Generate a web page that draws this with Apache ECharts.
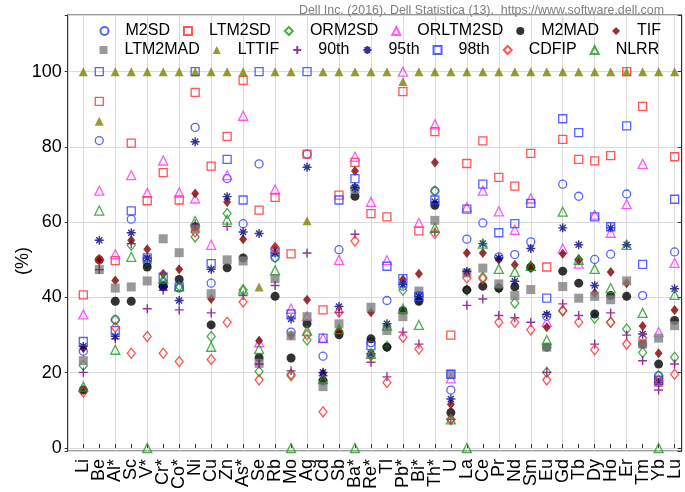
<!DOCTYPE html>
<html>
<head>
<meta charset="utf-8">
<script src="https://cdn.jsdelivr.net/npm/echarts@6/dist/echarts.min.js"></script>
<style>html,body{margin:0;padding:0;background:#fff}#c{width:685px;height:492px}</style>
</head>
<body>
<div id="c"></div>
<script>
var categories = ['Li','Be','Al*','Sc','V*','Cr*','Co*','Ni','Cu','Zn','As*','Se','Rb','Mo','Ag','Cd','Sb','Ba*','Re*','Tl','Pb*','Bi*','Th*','U','La','Ce','Pr','Nd','Sm','Eu','Gd','Tb','Dy','Ho','Er','Tm','Yb','Lu'];
var yTicks = [0,20,40,60,80,100];

var M2SD = [25.7,81.7,34.1,60.8,50,43,42.5,85.2,43.8,71.6,59.6,75.5,50.6,30.8,78.1,24.4,52.7,69,28,39.2,43,40.5,68.3,15.4,55.5,59.8,50.8,51.4,54.8,35,70.1,66.9,50.1,51.5,67.5,40.5,19.2,52.1];
var LTM2SD = [40.7,92.1,49.8,81,65.7,73.2,65.9,94.5,74.9,82.8,97.7,63.2,66.6,51.6,78.1,36.7,67.2,75.9,62.3,61.4,94.7,57.7,84.1,30,75.6,81.6,71.9,69.6,78.3,48.1,82,76.7,76.3,77.7,100,90.8,17.5,77.4];
var ORM2SD = [21.9,50,34,53.9,49,44,43,56.1,29.6,62.3,42,20.3,50.6,19.6,28.7,18,31,69,25,27,41.9,39.5,68.3,7.6,42,45.4,42.5,38.5,48,20.1,36.5,50,34.5,33.4,31.6,25.4,19.2,24.1];
var ORLTM2SD = [35.5,68.4,51.5,72.5,67.8,76.4,67.9,66.3,54,72.5,88.3,28.1,68.7,37,35,29.2,50,77.4,65.4,49.9,100,59.8,86,18.5,64,68.4,62.9,58,66.3,33.5,53,49,62,57.2,64.8,75.5,30.8,49.2];
var M2MAD = [15.4,50,39,39,48.1,43,44.8,58.8,32.7,47.9,50.5,24,40.3,23.9,33,17.9,30.1,66.9,29,26.8,36.5,39,64.5,9.4,42,43,42.5,42.8,48,26.8,47,43.8,35.6,40.5,40.3,27.6,22.3,33.9];
var TIF = [26.5,50,44.5,55.2,52.8,46.3,47.5,67.6,39.6,65.4,55.5,28.5,53.5,29.9,39.4,19.8,31,73.6,36.1,32.5,44.8,46.3,75.9,11.6,51.8,51.8,50,48.7,48.4,32.1,51.6,50,41.2,46.8,43.8,32.4,25.2,36.7];
var LTM2MAD = [23.2,47.4,42.5,42.8,44.4,55.6,51.9,58.3,41,50,49.7,22.5,45,29.8,34.9,16.3,33,68.7,37.4,31.2,34.9,41.7,60.5,19.6,46.5,47.8,43.6,40.5,42.1,26.8,42.9,39.8,40.3,39.4,44.4,27.6,29.2,32.5];
var LTTIF = [100,86.8,100,100,100,100,100,100,100,100,100,42.8,100,100,60.4,100,100,100,100,100,97.4,100,100,100,100,100,100,100,100,100,100,100,100,100,100,100,100,100];
var P90 = [20.1,47.4,29,54.3,37,41.9,36.7,59.5,35.9,58.9,40.5,22.3,43.2,20.5,51.8,19.2,36,56.8,22.8,18.9,30.8,27.6,57.4,7.6,37.9,39.6,35.2,34.6,33.4,20.1,38.3,35.2,27.6,35.9,30,23.2,15.4,22.3];
var P95 = [27,55.2,29.7,57.2,50.5,42.8,39.2,81.4,47.5,66.8,57.4,57,51.8,34.3,74.6,20.1,37.6,69.2,25,33,43.5,40.3,65.4,13,46.9,54.3,50.5,44.3,53,35.5,58.5,54,43.2,58.5,54,30.3,17.4,42.3];
var P98 = [28.3,100,31.2,63,50.5,45.4,42.8,100,49,76.7,65.9,100,52.1,35.6,100,29.2,65.9,71.6,27.2,48.3,45,40.3,65.9,19.6,63.5,70.1,57.2,59.6,65,39.8,87.5,83.8,61.4,58.8,85.6,48.8,18,66.1];
var CDFIP = [14.9,50,32.1,25.2,29.6,25.2,23,57.4,23.5,33.4,38.8,18.1,53,19.2,30.1,9.6,36.1,55,24.5,17.4,29.4,26.3,57,7.6,45.2,45,33.4,33.4,31.4,18.1,36.5,33.4,26.1,33.4,27.6,29.2,18,19.6];
var NLRR = [16.3,63.1,26.1,50.8,0,45,43,60.3,26.9,60.7,42.1,26.3,47.2,0,31.2,18.3,31.6,0,25,32.5,37,32.7,58.5,7.6,0,54.3,47.6,46.8,48.4,28.7,62.8,50,47.6,42.5,54,35.9,0,40.7];

var FONT = 'Liberation Sans, Arial, sans-serif';
var Y_MIN = -0.8, Y_MAX = 115.07;
var PLUS = 'path://M5,0L5,10M0,5L10,5';
var STAR = 'path://M5,0L5,10M0,5L10,5M1.6,1.6L8.4,8.4M8.4,1.6L1.6,8.4';

function mk(name, data, symbol, size, color, mode) {
  var style;
  if (mode === 'hollow') style = {color: 'rgba(255,255,255,0)', borderColor: color, borderWidth: 1.3};
  else if (mode === 'line') style = {color: 'rgba(255,255,255,0)', borderColor: color, borderWidth: 1.4};
  else style = {color: color, borderWidth: 0};
  return {
    name: name, type: 'scatter', xAxisIndex: 0, yAxisIndex: 0,
    data: data, symbol: symbol, symbolSize: size, itemStyle: style,
    clip: false, emphasis: {disabled: true}
  };
}

var series = [
  mk('M2SD', M2SD, 'circle', 8, '#2a3cff', 'hollow'),
  mk('LTM2SD', LTM2SD, 'rect', 8, '#ff2a2a', 'hollow'),
  mk('ORM2SD', ORM2SD, 'diamond', [8,10], '#1e9a1e', 'hollow'),
  mk('ORLTM2SD', ORLTM2SD, 'triangle', 9, '#ff30ff', 'hollow'),
  mk('M2MAD', M2MAD, 'circle', 9, '#000000', 'fill'),
  mk('TIF', TIF, 'diamond', [8,10], '#800000', 'fill'),
  mk('LTM2MAD', LTM2MAD, 'rect', 9, '#7f7f7f', 'fill'),
  mk('LTTIF', LTTIF, 'triangle', 9, '#808000', 'fill'),
  mk('90th', P90, PLUS, 9, '#800080', 'line'),
  mk('95th', P95, STAR, 9, '#000080', 'line'),
  mk('98th', P98, 'rect', 8, '#2a3cff', 'hollow'),
  mk('CDFIP', CDFIP, 'diamond', [8,10], '#ff2a2a', 'hollow'),
  mk('NLRR', NLRR, 'triangle', 9, '#1e9a1e', 'hollow')
];

var legendCommon = {
  orient: 'horizontal', itemWidth: 8, itemHeight: 8, itemGap: 13,
  selectedMode: false, padding: 0,
  textStyle: {fontSize: 16, color: '#000', fontFamily: FONT, padding: [0,0,0,12]}
};

var option = {
  animation: false,
  backgroundColor: '#fff',
  title: {
    text: 'Dell Inc. (2016). Dell Statistica (13).  https://www.software.dell.com',
    right: 16, top: 0,
    textStyle: {fontSize: 12.4, fontWeight: 'normal', color: '#808080', fontFamily: FONT}
  },
  legend: [
    Object.assign({}, legendCommon, {left: 99.5, top: 23, data: ['M2SD','LTM2SD','ORM2SD','ORLTM2SD','M2MAD','TIF']}),
    Object.assign({}, legendCommon, {left: 99.5, top: 42, data: ['LTM2MAD','LTTIF','90th','95th','98th','CDFIP','NLRR']})
  ],
  grid: [
    {left: 83.3, right: 10.4, top: 15, bottom: 41, containLabel: false},
    {left: 67.7, right: 3.3, top: 15, bottom: 41, containLabel: false, show: true, borderColor: '#333', borderWidth: 1, backgroundColor: 'rgba(0,0,0,0)'}
  ],
  xAxis: [
    {
      gridIndex: 0, type: 'category', data: categories, boundaryGap: false,
      axisLine: {show: false},
      axisTick: {show: true, inside: true, length: 4, interval: 0, lineStyle: {color: '#333'}},
      axisLabel: {interval: 0, rotate: 90, fontSize: 18, color: '#000', fontFamily: FONT, margin: 8},
      splitLine: {show: true, interval: 1, lineStyle: {color: '#dadada', width: 1}}
    },
    {gridIndex: 1, type: 'value', min: 0, max: 1, show: false}
  ],
  yAxis: [
    {gridIndex: 0, type: 'value', min: Y_MIN, max: Y_MAX, show: false},
    {
      gridIndex: 1, type: 'value', min: Y_MIN, max: Y_MAX, position: 'left', splitNumber: 5,
      axisLine: {show: true, lineStyle: {color: '#333'}},
      axisTick: {show: true, inside: false, length: 3, lineStyle: {color: '#333'}},
      axisLabel: {
        fontSize: 18, color: '#000', fontFamily: FONT, margin: 6,
        showMinLabel: true, showMaxLabel: true,
        formatter: function (v) { return yTicks.indexOf(Math.round(v * 1000) / 1000) >= 0 ? String(Math.round(v)) : ''; }
      },
      splitLine: {show: true, lineStyle: {color: '#dadada', width: 1}}
    },
    {
      gridIndex: 1, type: 'value', min: Y_MIN, max: Y_MAX, position: 'right', splitNumber: 5,
      axisLine: {show: true, lineStyle: {color: '#333'}},
      axisTick: {show: true, inside: true, length: 4, lineStyle: {color: '#333'}},
      axisLabel: {show: false},
      splitLine: {show: false}
    }
  ],
  graphic: [
    {type: 'text', left: 14, top: 247, rotation: Math.PI / 2, style: {text: '(%)', fontSize: 18, fill: '#000', fontFamily: FONT}}
  ],
  series: series
};

var chart = echarts.init(document.getElementById('c'), null, {renderer: 'canvas'});
chart.setOption(option);
</script>
</body>
</html>
